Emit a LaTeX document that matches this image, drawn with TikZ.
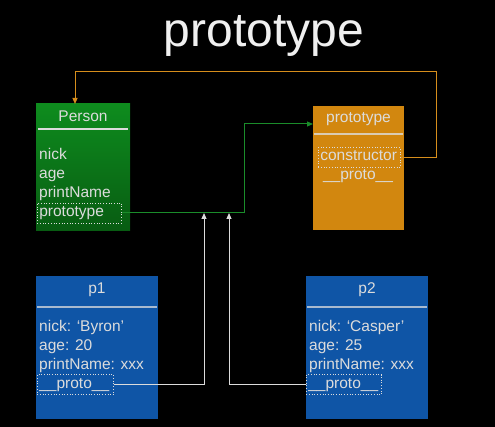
\documentclass[tikz,border=0pt]{standalone}
\usepackage{fontspec}
\setmainfont{Liberation Sans}
\usetikzlibrary{positioning, arrows.meta}

\definecolor{pgreentop}{HTML}{0E8C1E}
\definecolor{pgreenbot}{HTML}{085C12}
\definecolor{porange}{HTML}{D2870F}
\definecolor{pblue}{HTML}{0F55A6}
\definecolor{ptext}{HTML}{DCDCDC}
\definecolor{lorange}{HTML}{D68E1C}
\definecolor{lgreen}{HTML}{1A8C2A}

\tikzset{
  box/.style={rectangle, inner sep=0},
  item/.style={anchor=base west, inner sep=0, text=ptext, font=\fontsize{15.5}{19}\selectfont},
  head/.style={anchor=base, inner sep=0, text=ptext, font=\fontsize{15.5}{19}\selectfont},
  dotbox/.style={item, draw=ptext, dotted, line width=.7pt, inner xsep=2pt, inner ysep=2.5pt,
    text height=11pt, text depth=4pt, align=left},
  link/.style={line width=1pt, -{Triangle[length=6pt,width=5pt]}}
}

\begin{document}
\begin{tikzpicture}[x=1pt,y=-1pt]
  \fill[black] (0,0) rectangle (495,427);
  \node[anchor=base, text=white!94!black, inner sep=0, font=\fontsize{48}{50}\selectfont] (title) at (264,47) {prototype};

  % Person
  \node[box, top color=pgreentop, bottom color=pgreenbot, minimum width=94pt, minimum height=127pt] (person) at (83,167.5) {};
  \node[head] (personh) at (83,122) {Person};
  \draw[ptext, line width=1.6pt] (38,129) -- (128,129);
  \node[item] (pnick) at (39,159.5) {nick};
  \node[item] (page) at (39,178.5) {age};
  \node[item] (pprint) at (39,197.5) {printName};
  \node[dotbox, text width=80pt] (pproto) at (37,216.5) {prototype};

  % prototype object
  \node[box, fill=porange, minimum width=91pt, minimum height=124pt] (proto) at (358.5,168) {};
  \node[head] (protoh) at (358.5,123) {prototype};
  \draw[ptext!80!porange, line width=1.6pt] (314,134) -- (403,134);
  \node[dotbox, text width=78pt] (ctor) at (318,161) {constructor};
  \node[head] (ptproto) at (358,180) {\_\_proto\_\_};

  % p1
  \node[box, fill=pblue, minimum width=122pt, minimum height=143pt] (p1) at (97,347.5) {};
  \node[head] (p1h) at (97,294) {p1};
  \draw[ptext!75!pblue, line width=1.2pt] (37,307) -- (157,307);
  \node[item] (p1nick) at (39,331) {nick: ‘Byron’};
  \node[item] (p1age) at (39,350) {age: 20};
  \node[item] (p1print) at (39,369) {printName: xxx};
  \node[dotbox, text width=72pt] (p1proto) at (37,388) {\_\_proto\_\_};

  % p2
  \node[box, fill=pblue, minimum width=122pt, minimum height=143pt] (p2) at (367,347.5) {};
  \node[head] (p2h) at (367,294) {p2};
  \draw[ptext!75!pblue, line width=1.2pt] (307,307) -- (427,307);
  \node[item] (p2nick) at (309,331) {nick: ‘Casper’};
  \node[item] (p2age) at (309,350) {age: 25};
  \node[item] (p2print) at (309,369) {printName: xxx};
  \node[dotbox, text width=71pt] (p2proto) at (306,388) {\_\_proto\_\_};

  % connectors
  \coordinate (otop) at (436,72);
  \coordinate (oin) at (75,104);
  \coordinate (gbend) at (244,124);
  \coordinate (gin) at (313,124);
  \coordinate (w1) at (204,213);
  \coordinate (w2) at (229,213);
  \draw[link, lorange] (ctor.east) -| (otop) -| (oin);
  \draw[link, lgreen] (pproto.east) -| (gbend) -- (gin);
  \draw[link, ptext] (p1proto.east) -| (w1);
  \draw[link, ptext] (p2proto.west) -| (w2);
\end{tikzpicture}
\end{document}
